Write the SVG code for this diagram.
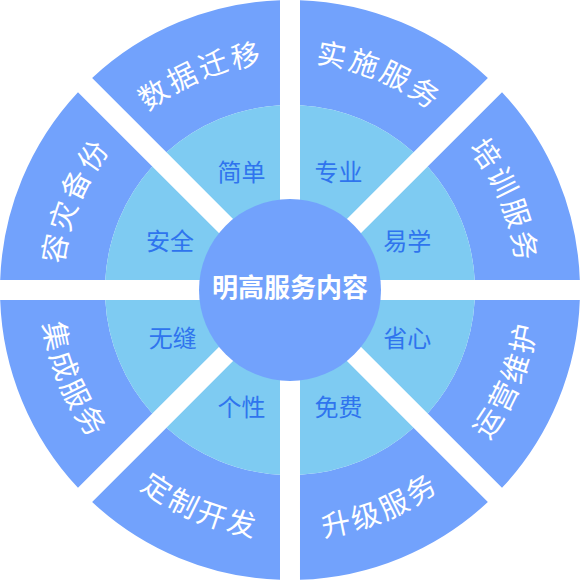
<svg xmlns="http://www.w3.org/2000/svg" xmlns:xlink="http://www.w3.org/1999/xlink" width="580" height="580" viewBox="0 0 580 580">
<style>
.o{fill:#72a2fc}
.i{fill:#7ecbf2}
.ot{font-family:"Noto Sans CJK SC","Noto Sans",sans-serif;font-size:29px;fill:#ffffff;letter-spacing:3px}
.it{font-family:"Noto Sans CJK SC","Noto Sans",sans-serif;font-size:24px;fill:#2f74ee;text-anchor:middle}
.ct{font-family:"Noto Sans CJK SC","Noto Sans",sans-serif;font-size:26px;font-weight:bold;fill:#ffffff;text-anchor:middle}
</style>
<defs>
<path id="outerSeg" d="M300,0.17 A290,290 0 0 1 487.87,77.99 L413.55,152.30 A185,185 0 0 0 300,105.27 Z"/>
<path id="innerSeg" d="M300,105.27 A185,185 0 0 1 413.55,152.30 L346.17,219.68 A90,90 0 0 0 300,200.56 Z"/>
<path id="arcTop" d="M202.75,79.36 A228,228 0 0 1 500.64,202.75" fill="none"/>
<path id="arcBot" d="M194.71,520.05 A249,249 0 0 0 520.05,385.29" fill="none"/>
</defs>
<g id="connectors"></g>
<g id="shishi">
<use href="#outerSeg" class="o"/>
<use href="#innerSeg" class="i"/>
<text class="ot"><textPath href="#arcTop" startOffset="50%" text-anchor="middle">实施服务</textPath></text>
<text class="it" x="338.6" y="181.2">专业</text>
</g>
<g id="peixun">
<use href="#outerSeg" class="o" transform="rotate(45 290 290)"/>
<use href="#innerSeg" class="i" transform="rotate(45 290 290)"/>
<text class="ot" transform="rotate(45 290 290)"><textPath href="#arcTop" startOffset="50%" text-anchor="middle">培训服务</textPath></text>
<text class="it" x="407.3" y="249.9">易学</text>
</g>
<g id="yunying">
<use href="#outerSeg" class="o" transform="rotate(90 290 290)"/>
<use href="#innerSeg" class="i" transform="rotate(90 290 290)"/>
<text class="ot" transform="rotate(-45 290 290)"><textPath href="#arcBot" startOffset="50%" text-anchor="middle">运营维护</textPath></text>
<text class="it" x="407.3" y="347.1">省心</text>
</g>
<g id="shengji">
<use href="#outerSeg" class="o" transform="rotate(135 290 290)"/>
<use href="#innerSeg" class="i" transform="rotate(135 290 290)"/>
<text class="ot"><textPath href="#arcBot" startOffset="50%" text-anchor="middle">升级服务</textPath></text>
<text class="it" x="338.6" y="415.8">免费</text>
</g>
<g id="dingzhi">
<use href="#outerSeg" class="o" transform="rotate(180 290 290)"/>
<use href="#innerSeg" class="i" transform="rotate(180 290 290)"/>
<text class="ot" transform="rotate(45 290 290)"><textPath href="#arcBot" startOffset="50%" text-anchor="middle">定制开发</textPath></text>
<text class="it" x="241.4" y="415.8">个性</text>
</g>
<g id="jicheng">
<use href="#outerSeg" class="o" transform="rotate(225 290 290)"/>
<use href="#innerSeg" class="i" transform="rotate(225 290 290)"/>
<text class="ot" transform="rotate(90 290 290)"><textPath href="#arcBot" startOffset="50%" text-anchor="middle">集成服务</textPath></text>
<text class="it" x="172.7" y="347.1">无缝</text>
</g>
<g id="rongzai">
<use href="#outerSeg" class="o" transform="rotate(270 290 290)"/>
<use href="#innerSeg" class="i" transform="rotate(270 290 290)"/>
<text class="ot" transform="rotate(-90 290 290)"><textPath href="#arcTop" startOffset="50%" text-anchor="middle">容灾备份</textPath></text>
<text class="it" x="170" y="249.9">安全</text>
</g>
<g id="shuju">
<use href="#outerSeg" class="o" transform="rotate(315 290 290)"/>
<use href="#innerSeg" class="i" transform="rotate(315 290 290)"/>
<text class="ot" transform="rotate(-45 290 290)"><textPath href="#arcTop" startOffset="50%" text-anchor="middle">数据迁移</textPath></text>
<text class="it" x="241.4" y="181.2">简单</text>
</g>
<g id="center">
<circle cx="290" cy="290" r="91" class="o"/>
<text class="ct" x="290" y="296.5">明高服务内容</text>
</g>
</svg>
